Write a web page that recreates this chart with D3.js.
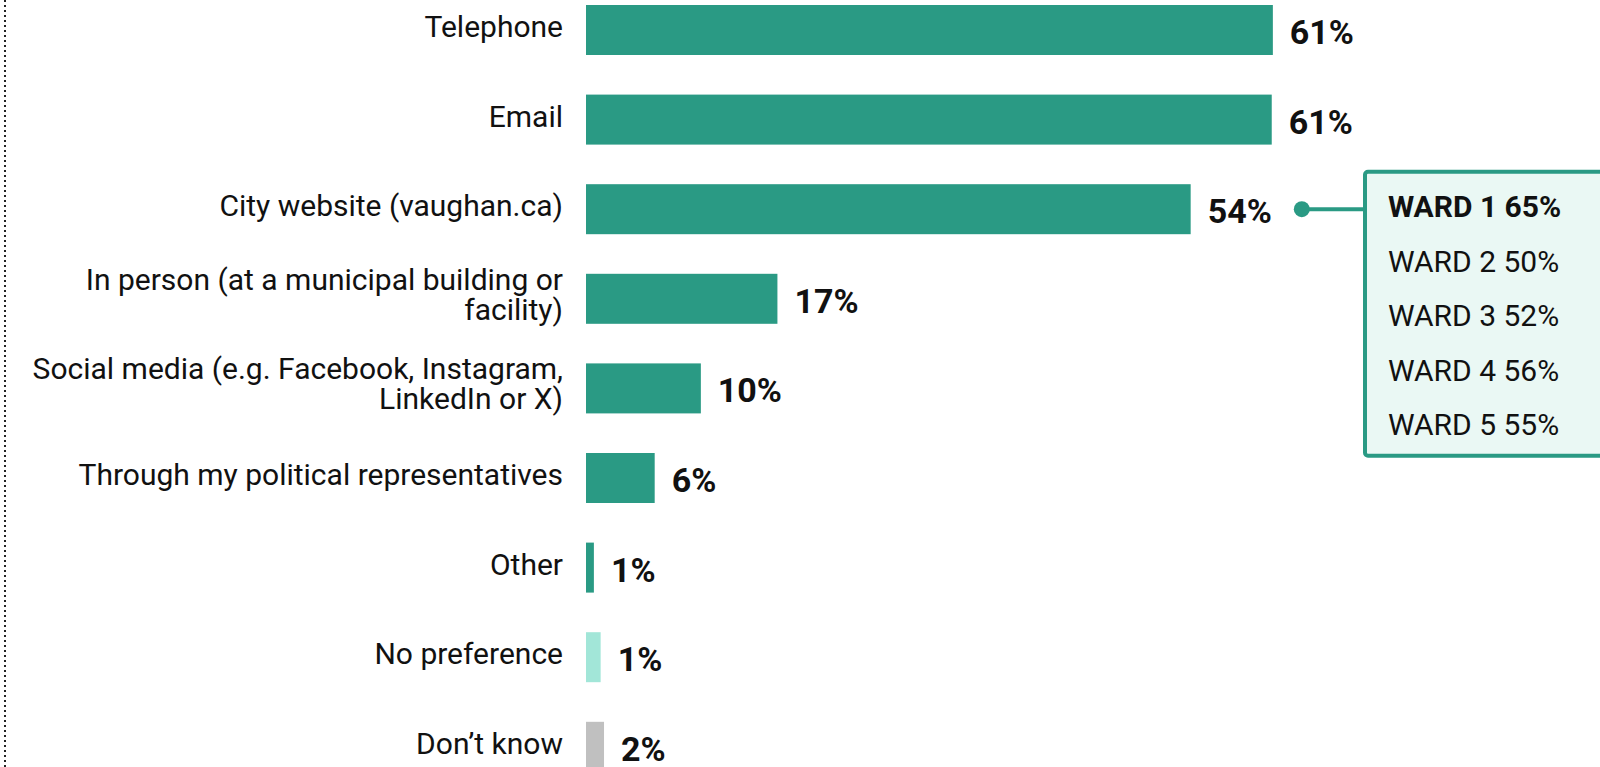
<!DOCTYPE html>
<html>
<head>
<meta charset="utf-8">
<script src="https://cdn.jsdelivr.net/npm/d3@7"></script>
<style>
  body { margin: 0; background: #fff; }
  svg { display: block; font-family: Roboto, "Noto Sans", sans-serif; }
</style>
</head>
<body>
<div id="chart"></div>
<script>
// Preferred ways to contact the City (share of respondents)
var categories = [
  "Telephone",
  "Email",
  "City website (vaughan.ca)",
  "In person (at a municipal building or\nfacility)",
  "Social media (e.g. Facebook, Instagram,\nLinkedIn or X)",
  "Through my political representatives",
  "Other",
  "No preference",
  "Don\u2019t know"
];
var values = [61, 60.9, 53.7, 17, 10.2, 6.1, 0.7, 1.3, 1.6];
var barColors = ["#2a9a84", "#2a9a84", "#2a9a84", "#2a9a84", "#2a9a84", "#2a9a84", "#2a9a84", "#a2e6d8", "#c0c0c0"];

// ward breakdown for the highlighted bar
var highlight = "City website (vaughan.ca)";
var wards = ["WARD 1", "WARD 2", "WARD 3", "WARD 4", "WARD 5"];
var wardValues = [65, 50, 52, 56, 55];

var width = 1600, height = 767;
var barLeft = 586;
var step = 89.6, pad = 0.442;

var svg = d3.select("#chart").append("svg")
  .attr("width", width)
  .attr("height", height);

var x = d3.scaleLinear().domain([0, 100]).range([0, 1126]);
var y = d3.scaleBand()
  .domain(categories)
  .range([5, 5 + step * (categories.length - pad)])
  .paddingInner(pad)
  .paddingOuter(0);

// dotted rule on the left edge
svg.append("line")
  .attr("x1", 5).attr("x2", 5)
  .attr("y1", 0).attr("y2", height)
  .style("stroke", "#222")
  .style("stroke-width", 2)
  .style("stroke-dasharray", "2,3");

var rows = svg.selectAll("g.row")
  .data(categories)
  .enter().append("g")
  .attr("class", "row")
  .attr("transform", function(d) { return "translate(0," + y(d) + ")"; });

rows.append("rect")
  .attr("x", barLeft)
  .attr("width", function(d, i) { return x(values[i]); })
  .attr("height", y.bandwidth())
  .style("fill", function(d, i) { return barColors[i]; });

// category labels, right aligned, manual line breaks
rows.each(function(d) {
  var lines = d.split("\n");
  var mid = y.bandwidth() / 2;
  var t = d3.select(this).append("text")
    .attr("text-anchor", "end")
    .style("font-size", "30px")
    .style("fill", "#111");
  lines.forEach(function(line, k) {
    var base = lines.length > 1 ? mid - 9 : mid + 7;
    t.append("tspan")
      .attr("x", barLeft - 23)
      .attr("y", base + k * 30)
      .text(line);
  });
});

var valueLabels = rows.append("text")
  .attr("x", function(d, i) { return barLeft + x(values[i]) + 17; })
  .attr("y", y.bandwidth() / 2 + 14)
  .style("font-size", "34px")
  .style("font-weight", 700)
  .style("fill", "#111")
  .text(function(d, i) { return Math.round(values[i]) + "%"; });

// callout with ward breakdown
var hi = categories.indexOf(highlight);
var cy = y(highlight) + y.bandwidth() / 2;
var labelNode = valueLabels.filter(function(d) { return d === highlight; }).node();
var dotX = barLeft + x(values[hi]) + 17 + labelNode.getComputedTextLength() + 30;
var boxX = 1365, boxTop = cy - 37.5, boxH = 284;

var callout = svg.append("g").attr("class", "callout");

callout.append("line")
  .attr("x1", dotX).attr("x2", boxX)
  .attr("y1", cy).attr("y2", cy)
  .style("stroke", "#2a9a84")
  .style("stroke-width", 4);

callout.append("circle")
  .attr("cx", dotX).attr("cy", cy)
  .attr("r", 8)
  .style("fill", "#2a9a84");

callout.append("rect")
  .attr("x", boxX).attr("y", boxTop)
  .attr("width", 300).attr("height", boxH)
  .attr("rx", 3)
  .style("fill", "#eaf8f4")
  .style("stroke", "#2a9a84")
  .style("stroke-width", 4);

callout.selectAll("text.ward")
  .data(wards)
  .enter().append("text")
  .attr("class", "ward")
  .attr("x", boxX + 23)
  .attr("y", function(d, i) { return cy + 8 + i * 54.5; })
  .style("font-size", "30px")
  .style("font-weight", function(d, i) { return i === 0 ? 700 : 400; })
  .style("fill", "#111")
  .text(function(d, i) { return d + " " + wardValues[i] + "%"; });
</script>
</body>
</html>
